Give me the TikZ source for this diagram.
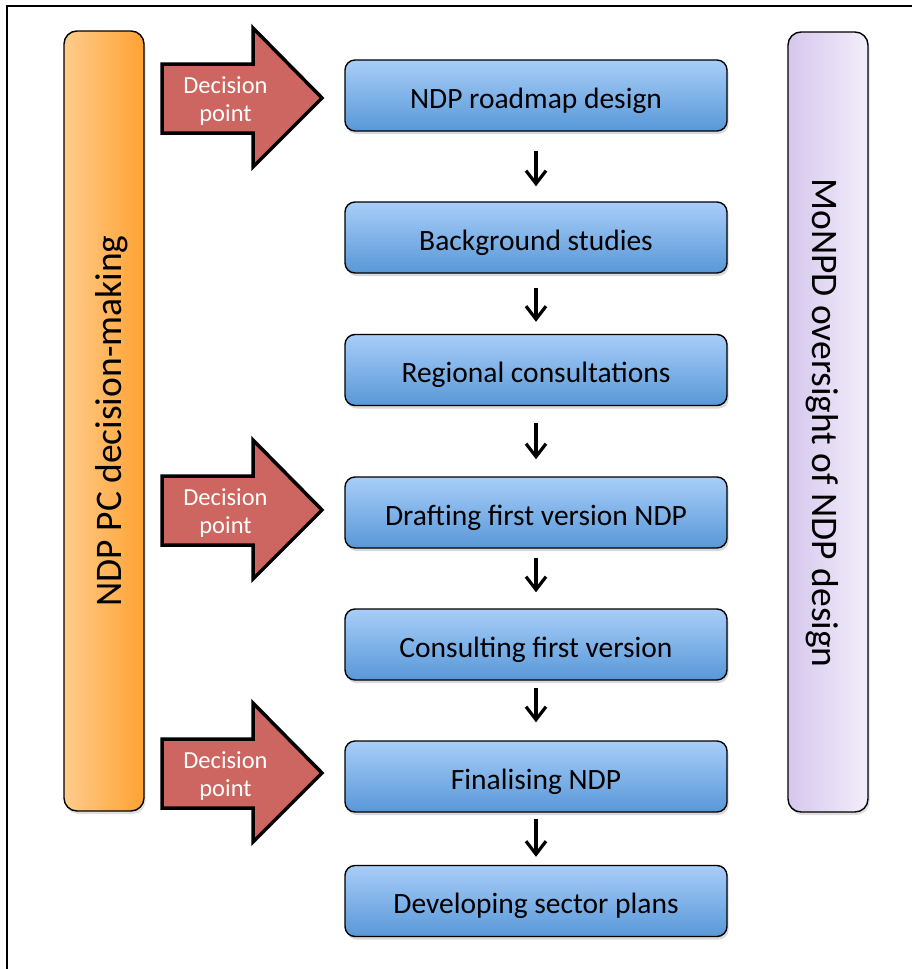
\documentclass[tikz,border=0pt]{standalone}
\usepackage{fontspec}
\setmainfont{Carlito}
\usetikzlibrary{arrows.meta,shadows}

\definecolor{stepTop}{RGB}{168,205,248}
\definecolor{stepBot}{RGB}{88,152,216}
\definecolor{pcLeft}{RGB}{255,204,140}
\definecolor{pcRight}{RGB}{255,162,50}
\definecolor{mnLeft}{RGB}{214,199,237}
\definecolor{mnRight}{RGB}{242,238,250}
\definecolor{decRed}{RGB}{205,102,96}

\tikzset{
  stepbox/.style={draw=black, line width=1.4pt, rounded corners=10pt,
    minimum width=382pt, minimum height=71pt, top color=stepTop, bottom color=stepBot,
    text height=25pt, text depth=0pt, font=\fontsize{29.5}{34}\selectfont,
    drop shadow={shadow xshift=1.5pt, shadow yshift=-3pt, opacity=0.3}},
  sidebar/.style={draw=black, line width=1.4pt, rounded corners=13pt,
    minimum width=80pt, minimum height=780pt,
    drop shadow={shadow xshift=1.5pt, shadow yshift=-3pt, opacity=0.25}},
  sidetext/.style={anchor=base, font=\fontsize{37.5}{40}\selectfont},
  flow/.style={line width=3.2pt, -{Straight Barb[length=13pt, width=20pt]}},
  decarrow/.style={draw=black, fill=decRed, line width=3.5pt, line join=miter},
  dectext/.style={align=center, text=white, font=\fontsize{24.5}{28.5}\selectfont}
}

\begin{document}
\begin{tikzpicture}[x=1pt, y=-1pt]
  \useasboundingbox (0,0) rectangle (912,969);
  \draw[line width=1.6pt] (7,969) -- (7,6) -- (912,6);

  % side bars
  \node[sidebar, left color=pcLeft, right color=pcRight] (pc) at (104,421) {};
  \node[sidetext, rotate=90] (pclabel) at (121,421) {NDP PC decision-making};
  \node[sidebar, left color=mnLeft, right color=mnRight] (mn) at (828,422) {};
  \node[sidetext, rotate=-90] (mnlabel) at (812,423) {MoNPD oversight of NDP design};

  % process steps
  \node[stepbox] (s1) at (536,95.5) {NDP roadmap design};
  \node[stepbox] (s2) at (536,237.5) {Background studies};
  \node[stepbox] (s3) at (536,370) {Regional consultations};
  \node[stepbox] (s4) at (536,512.5) {Drafting first version NDP};
  \node[stepbox] (s5) at (536,644.5) {Consulting first version};
  \node[stepbox] (s6) at (536,776.5) {Finalising NDP};
  \node[stepbox] (s7) at (536,901) {Developing sector plans};

  \foreach \a/\b/\p/\q in {s1/s2/19/15, s2/s3/14/12, s3/s4/17/17,
                            s4/s5/9/16, s5/s6/7/18, s6/s7/6/8}
    \draw[flow, shorten <=\p pt, shorten >=\q pt] (\a.south) -- (\b.north);

  % decision points
  \foreach \c/\n in {98/1, 510/2, 773/3} {
    \draw[decarrow] (162,\c-34) -- (253,\c-34) -- (253,\c-70) -- (322,\c)
      -- (253,\c+69) -- (253,\c+35) -- (162,\c+35) -- cycle;
    \node[dectext] (dec\n) at (225.5,\c+3) {Decision\\point};
  }
\end{tikzpicture}
\end{document}
